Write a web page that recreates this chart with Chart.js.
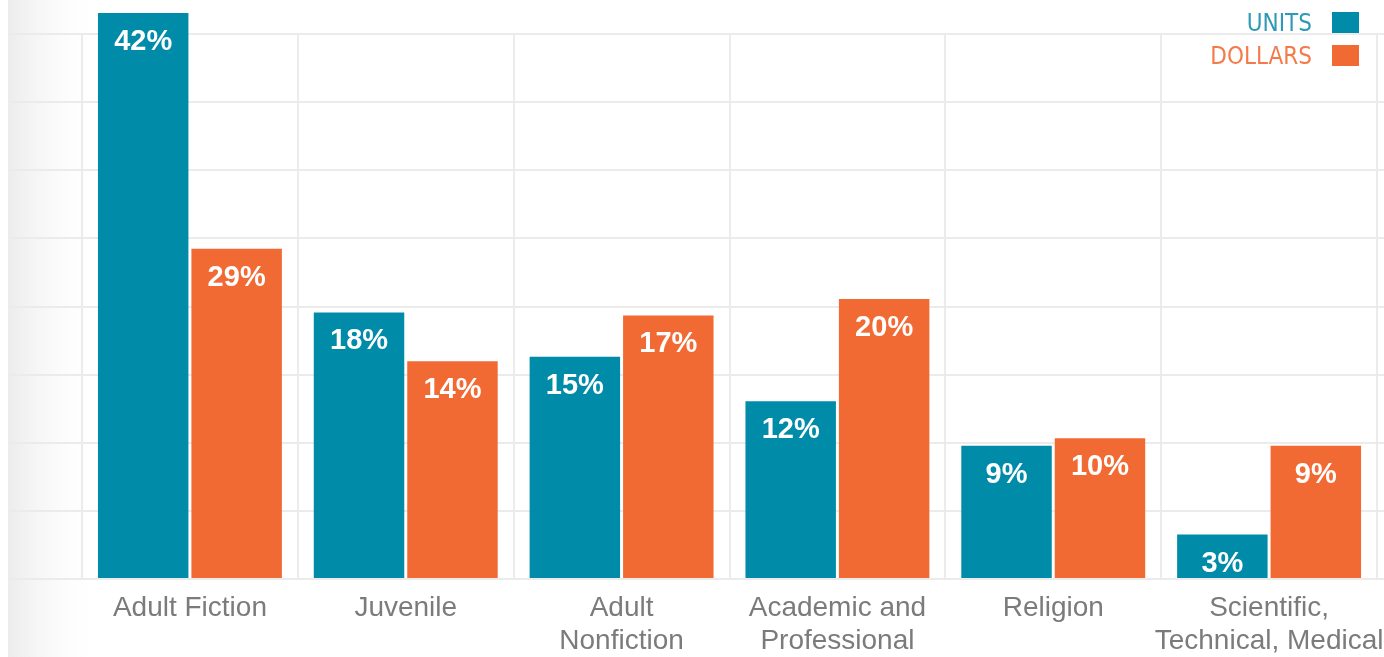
<!DOCTYPE html>
<html lang="en">
<head>
    <meta charset="UTF-8">
    <title>Book sales by category: units vs dollars</title>
    <script src="https://cdn.jsdelivr.net/npm/chart.js"></script>
    <style>
        html, body { margin: 0; padding: 0; background: #fff; }
        #wrap { width: 1384px; height: 657px; position: relative; }
    </style>
</head>
<body>
    <div id="wrap"><canvas id="salesChart"></canvas></div>

    <script>
        // categories (multi-line where the picture wraps them)
        const categories = [
            'Adult Fiction',
            'Juvenile',
            ['Adult', 'Nonfiction'],
            ['Academic and', 'Professional'],
            'Religion',
            ['Scientific,', 'Technical, Medical']
        ];

        // printed shares, in %
        const unitsPct = [42, 18, 15, 12, 9, 3];
        const dollarsPct = [29, 14, 17, 20, 10, 9];

        // the dollar bars in the picture are not drawn to the printed values,
        // so these are their heights (same % scale)
        const dollarsDrawn = [22.3, 14.7, 17.8, 18.9, 9.5, 9.0];

        const seriesNames = ['UNITS', 'DOLLARS'];
        const teal = '#008ba8';
        const orange = '#f26a33';
        const gridColor = '#ebebeb';

        // left grey panel behind the axis
        const panelPlugin = {
            id: 'panel',
            beforeDraw(chart) {
                const ctx = chart.ctx;
                const g = ctx.createLinearGradient(8, 0, 105, 0);
                g.addColorStop(0, '#ececec');
                g.addColorStop(1, 'rgba(255,255,255,0)');
                ctx.save();
                ctx.fillStyle = g;
                ctx.fillRect(8, 0, 97, chart.height);
                ctx.restore();
            }
        };

        // white % labels near the top of each bar
        const valueLabels = {
            id: 'valueLabels',
            afterDatasetsDraw(chart) {
                const ctx = chart.ctx;
                const topLimit = chart.chartArea.top - 21;
                ctx.save();
                ctx.fillStyle = '#fff';
                ctx.font = 'bold 29px "Liberation Sans", Arial, sans-serif';
                ctx.textAlign = 'center';
                ctx.textBaseline = 'middle';
                chart.data.datasets.forEach((ds, i) => {
                    chart.getDatasetMeta(i).data.forEach((bar, j) => {
                        const y = Math.max(bar.y, topLimit) + 29;
                        ctx.fillText(ds.printed[j] + '%', bar.x, y);
                    });
                });
                ctx.restore();
            }
        };

        // stacked legend top right: text then swatch
        const cornerLegend = {
            id: 'cornerLegend',
            afterDraw(chart) {
                const ctx = chart.ctx;
                ctx.save();
                ctx.font = '24px "Liberation Sans Narrow", "DejaVu Sans Condensed", "Liberation Sans", sans-serif';
                ctx.textAlign = 'right';
                ctx.textBaseline = 'middle';
                chart.data.datasets.forEach((ds, i) => {
                    const cy = 23 + i * 33;
                    ctx.fillStyle = ds.legendText;
                    ctx.fillText(seriesNames[i], 1312, cy + 2);
                    ctx.fillStyle = ds.backgroundColor;
                    ctx.fillRect(1332, cy - 11, 27, 21);
                });
                ctx.restore();
            }
        };

        const yMax = 36.8;
        const yStep = 4.6;

        new Chart(document.getElementById('salesChart'), {
            type: 'bar',
            data: {
                labels: categories,
                datasets: [{
                    label: seriesNames[0],
                    data: unitsPct,
                    printed: unitsPct,
                    backgroundColor: teal,
                    legendText: '#2f9ab5',
                    clip: { left: false, top: 21, right: false, bottom: false }
                }, {
                    label: seriesNames[1],
                    data: dollarsDrawn,
                    printed: dollarsPct,
                    backgroundColor: orange,
                    legendText: '#f57a4a',
                    clip: { left: false, top: 21, right: false, bottom: false }
                }]
            },
            options: {
                responsive: true,
                maintainAspectRatio: false,
                animation: false,
                layout: { padding: { top: 34, left: 8, right: 0, bottom: 0 } },
                datasets: {
                    bar: { barPercentage: 0.968, categoryPercentage: 0.866 }
                },
                plugins: {
                    legend: { display: false },
                    tooltip: { enabled: false }
                },
                scales: {
                    x: {
                        grid: { color: gridColor, lineWidth: 2, offset: true, drawTicks: false },
                        border: { display: false },
                        ticks: {
                            color: '#7b7b7b',
                            padding: 13,
                            maxRotation: 0,
                            autoSkip: false,
                            font: { family: '"Liberation Sans", Arial, sans-serif', size: 28, lineHeight: 1.18 }
                        },
                        afterFit(scale) {
                            scale.paddingLeft = 0;
                            scale.paddingRight = 0;
                            scale.height = 78;
                        }
                    },
                    y: {
                        min: 0, max: yMax,
                        grid: { color: gridColor, lineWidth: 2, tickLength: 74 },
                        border: { display: false },
                        ticks: { display: false, stepSize: yStep },
                        afterFit(scale) { scale.width = 74; }
                    },
                    y2: {
                        position: 'right',
                        min: 0, max: yMax,
                        grid: { color: gridColor, lineWidth: 2, tickLength: 7, drawOnChartArea: false },
                        border: { display: false },
                        ticks: { display: false, stepSize: yStep },
                        afterFit(scale) { scale.width = 7; }
                    }
                }
            },
            plugins: [panelPlugin, valueLabels, cornerLegend]
        });
    </script>
</body>
</html>
